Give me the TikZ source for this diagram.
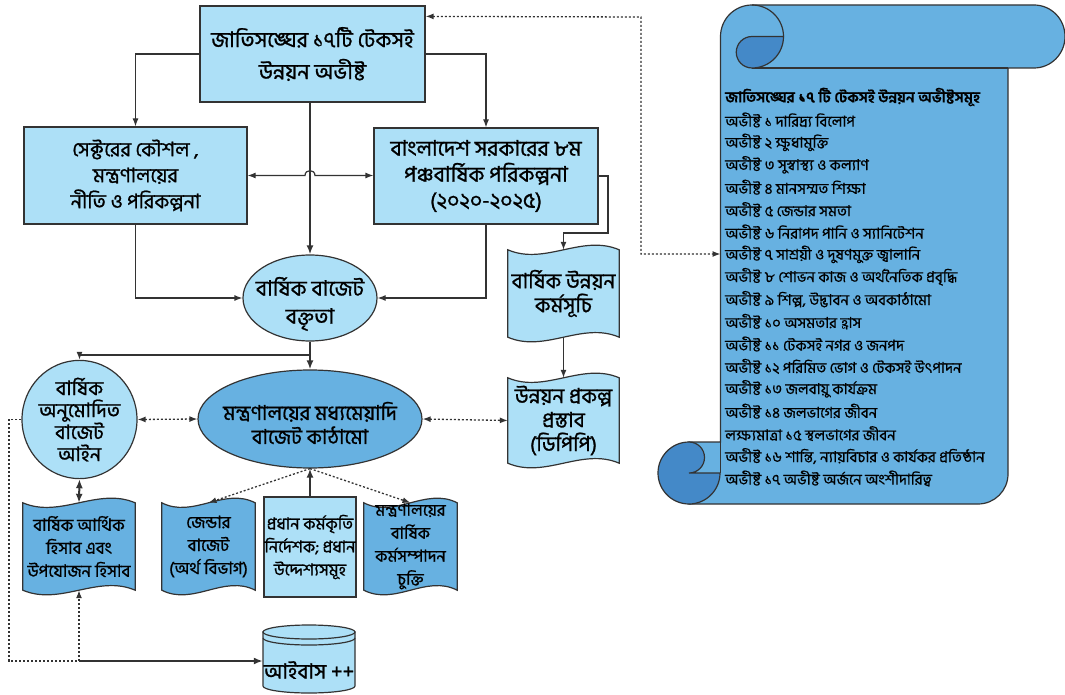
\documentclass[tikz,border=0pt]{standalone}
\usepackage{fontspec}
\newfontfamily\bn[Script=Bengali,FakeBold=1]{Hind Siliguri}
\newfontfamily\bns[Script=Bengali,FakeBold=0.6]{Hind Siliguri}
\usetikzlibrary{arrows.meta,calc,shapes.geometric}
\pgfdeclarelayer{background}
\pgfsetlayers{background,main}
\definecolor{lb}{HTML}{ADE0F7}
\definecolor{mb}{HTML}{67B1E1}
\definecolor{db}{HTML}{4489C8}
\definecolor{bd}{HTML}{333333}
\newcommand\fA{\bn\fontsize{21.5}{32}\selectfont}
\newcommand\fL{\bn\fontsize{20}{26}\selectfont}
\newcommand\fB{\bn\fontsize{21.5}{26}\selectfont}
\newcommand\fE{\bn\fontsize{21.5}{28}\selectfont}
\newcommand\fSel{\bn\fontsize{20}{22}\selectfont}
\newcommand\fM{\bn\fontsize{20.5}{24}\selectfont}
\newcommand\fC{\bn\fontsize{21}{24}\selectfont}
\newcommand\fD{\bn\fontsize{17}{23}\selectfont}
\newcommand\fK{\bn\fontsize{16.5}{23}\selectfont}
\newcommand\fS{\bns\fontsize{15}{15}\selectfont}
\newcommand{\wdoc}[2]{%
 \path[draw=bd, line width=1.2pt, fill=#2]
  (#1.north west) .. controls ($(#1.north west)!0.3333!(#1.north east)+(0,16)$) and ($(#1.north west)!0.6667!(#1.north east)+(0,-16)$) .. (#1.north east)
  -- (#1.south east) .. controls ($(#1.south west)!0.6667!(#1.south east)+(0,-16)$) and ($(#1.south west)!0.3333!(#1.south east)+(0,16)$) .. (#1.south west) -- cycle;}
\tikzset{
 box/.style={draw=bd, line width=1.2pt, fill=lb, align=center, inner sep=0pt},
 ell/.style={ellipse, draw=bd, line width=1.2pt, align=center, inner sep=0pt},
 txt/.style={align=center, inner sep=0pt},
 con/.style={draw=bd, line width=1.2pt, -{Latex[length=8pt,width=6pt]}},
 conb/.style={draw=bd, line width=1.2pt, {Latex[length=8pt,width=6pt]}-{Latex[length=8pt,width=6pt]}},
 conthick/.style={draw=bd, line width=2pt, -{Latex[length=9pt,width=7pt]}},
 conthickb/.style={draw=bd, line width=2pt, {Latex[length=9pt,width=7pt]}-{Latex[length=9pt,width=7pt]}},
 dotline/.style={draw=bd, line width=1.3pt, dash pattern=on 2pt off 2pt},
 dotcon/.style={dotline, -{Latex[length=8pt,width=6pt]}},
 dotconb/.style={dotline, {Latex[length=8pt,width=6pt]}-{Latex[length=8pt,width=6pt]}},
 scr/.style={anchor=west, inner sep=0pt, font=\fS},
}
\begin{document}
\begin{tikzpicture}[x=1pt,y=-1pt]
\useasboundingbox (0,0) rectangle (1065,695);
% ---------- scroll ----------
\path[fill=mb, draw=bd, line width=1.2pt]
 (752,5) -- (1034,5) .. controls (1051.1,5) and (1065,18.9) .. (1065,36.5)
 .. controls (1065,53.9) and (1051.1,68) .. (1034,68) -- (1008,68) -- (1008,474)
 .. controls (1008,490.6) and (994.6,504) .. (978,504) -- (689,504) -- (689,442)
 -- (720.5,442) -- (720.5,36.5) .. controls (720.5,19.1) and (734.6,5) .. (752,5) -- cycle;
\draw[bd, line width=1.2pt] (752,68) -- (1008,68);
\draw[bd, line width=1.2pt] (720.5,442) -- (720.5,473);
\draw[bd, line width=1.2pt] (752,5) .. controls (769.4,5) and (783.5,19.1) .. (783.5,36.5);
\path[fill=db, draw=bd, line width=1.2pt]
 (752,36.5) -- (783.5,36.5) .. controls (783.5,53.9) and (769.4,68) .. (752,68)
 .. controls (743.3,68) and (736.25,60.95) .. (736.25,52.25)
 .. controls (736.25,43.55) and (743.3,36.5) .. (752,36.5) -- cycle;
\path[fill=db, draw=bd, line width=1.2pt]
 (689,442) .. controls (671.9,442) and (658,455.9) .. (658,473)
 .. controls (658,490.1) and (671.9,504) .. (689,504)
 .. controls (706.1,504) and (720,490.1) .. (720,473) -- (689,473)
 .. controls (697.6,473) and (704.5,466.1) .. (704.5,457.5)
 .. controls (704.5,448.9) and (697.6,442) .. (689,442) -- cycle;
\node[scr] (g0) at (725,97) {\bfseries জাতিসঙ্ঘের ১৭ টি টেকসই উন্নয়ন অভীষ্টসমূহ};
\foreach \t [count=\i] in {%
 অভীষ্ট ১ দারিদ্র্য বিলোপ,
 অভীষ্ট ২ ক্ষুধামুক্তি,
 অভীষ্ট ৩ সুস্বাস্থ্য ও কল্যাণ,
 অভীষ্ট ৪ মানসম্মত শিক্ষা,
 অভীষ্ট ৫ জেন্ডার সমতা,
 অভীষ্ট ৬ নিরাপদ পানি ও স্যানিটেশন,
 অভীষ্ট ৭ সাশ্রয়ী ও দুষণমুক্ত জ্বালানি,
 অভীষ্ট ৮ শোভন কাজ ও অর্থনৈতিক প্রবৃদ্ধি,
 {অভীষ্ট ৯ শিল্প, উদ্ভাবন ও অবকাঠামো},
 অভীষ্ট ১০ অসমতার হ্রাস,
 অভীষ্ট ১১ টেকসই নগর ও জনপদ,
 অভীষ্ট ১২ পরিমিত ভোগ ও টেকসই উৎপাদন,
 অভীষ্ট ১৩ জলবায়ু কার্যক্রম,
 অভীষ্ট ১৪ জলভাগের জীবন,
 লক্ষ্যমাত্রা ১৫ স্থলভাগের জীবন,
 {অভীষ্ট ১৬ শান্তি, ন্যায়বিচার ও কার্যকর প্রতিষ্ঠান},
 অভীষ্ট ১৭ অভীষ্ট অর্জনে অংশীদারিত্ব}
 \node[scr] (g\i) at (725,{120+(\i-1)*22.4}) {\t};
% ---------- boxes ----------
\node[box, minimum width=225pt, minimum height=96pt, font=\fA] (sdg) at (312.5,54) {জাতিসঙ্ঘের ১৭টি টেকসই\\উন্নয়ন অভীষ্ট};
\node[box, minimum width=223pt, minimum height=97pt, font=\fL] (lbox) at (135.5,175.5) {সেক্টরের কৌশল ,\\মন্ত্রণালয়ের\\নীতি ও পরিকল্পনা};
\node[box, minimum width=224pt, minimum height=96pt, font=\fB] (rbox) at (486,176) {বাংলাদেশ সরকারের ৮ম\\পঞ্চবার্ষিক পরিকল্পনা\\(২০২০-২০২৫)};
\node[ell, fill=lb, minimum width=134pt, minimum height=86pt] (bud) at (310,298) {};
\node[txt, font=\fE] (budt) at (310,304) {বার্ষিক বাজেট\\বক্তৃতা};
\node[ell, fill=lb, minimum width=111pt, minimum height=97pt, font=\fSel] (sel) at (79.5,419.5) {বার্ষিক\\অনুমোদিত\\বাজেট\\আইন};
\node[ell, fill=mb, minimum width=224pt, minimum height=98pt] (mtbf) at (310,419) {};
\node[txt, font=\fM] (mtbft) at (310,423) {মন্ত্রণালয়ের মধ্যমেয়াদি\\বাজেট কাঠামো};
\node[txt, minimum width=111pt, minimum height=87pt, font=\fC] (adp) at (563.5,293.5) {বার্ষিক উন্নয়ন\\কর্মসূচি};
\node[txt, minimum width=111pt, minimum height=85pt, font=\fC] (dpp) at (563.5,420.5) {উন্নয়ন প্রকল্প\\প্রস্তাব\\(ডিপিপি)};
\node[txt, minimum width=112pt, minimum height=87pt, font=\fD] (fin) at (79,546.5) {বার্ষিক আর্থিক\\হিসাব এবং\\উপযোজন হিসাব};
\node[txt, minimum width=93pt, minimum height=87pt, font=\fD] (gen) at (208.5,546.5) {জেন্ডার\\বাজেট\\(অর্থ বিভাগ)};
\node[box, minimum width=92pt, minimum height=100pt, font=\fK] (kpi) at (310,547) {প্রধান কর্মকৃতি\\নির্দেশক; প্রধান\\উদ্দেশ্যসমূহ};
\node[txt, minimum width=93pt, minimum height=87pt, font=\fK] (apa) at (410.5,546.5) {মন্ত্রণালয়ের\\বার্ষিক\\কর্মসম্পাদন\\চুক্তি};
\node[txt, minimum width=92pt, font=\fC] (ibas) at (309,670) {আইবাস ++};
\begin{pgfonlayer}{background}
\wdoc{adp}{lb}
\wdoc{dpp}{lb}
\wdoc{fin}{mb}
\wdoc{gen}{mb}
\wdoc{apa}{mb}
\path[fill=lb, draw=bd, line width=1.2pt] (263,632) -- (263,686)
 .. controls (263,689.9) and (283.6,693) .. (309,693)
 .. controls (334.4,693) and (355,689.9) .. (355,686) -- (355,632) -- cycle;
\draw[bd, line width=1.2pt, fill=lb] (309,632) ellipse [x radius=46, y radius=7];
\draw[bd, line width=1.2pt] (263,638) .. controls (263,641.9) and (283.6,645) .. (309,645)
 .. controls (334.4,645) and (355,641.9) .. (355,638);
\end{pgfonlayer}
% ---------- connectors ----------
\draw[con] (sdg.west) -| (lbox.north);
\draw[con] (sdg.east) -| (rbox.north);
\draw[conthick] (sdg.south -| bud.north) -- (bud.north);
\draw[conb] (lbox.east) -- (305,175.5) .. controls (305,169) and (315,169) .. (315,175.5) -- (rbox.west |- lbox.east);
\draw[con] (lbox.south) |- (bud.west);
\draw[con] (rbox.south) |- (bud.east);
\draw[conthick] (bud.south) -- (mtbf.north);
\coordinate (br) at (310,355);
\draw[con] (br) -| (sel.north);
\draw[dotconb] (sel.east) -- (mtbf.west);
\draw[dotconb] (mtbf.east) -- (dpp.west);
\draw[con] (rbox.east) -- (608,176) -- (608,233) -| (adp.north);
\draw[con] (adp.south) -- (dpp.north);
\draw[conthickb] (sel.south) -- (fin.north);
\draw[dotcon] (mtbf.south) -- (gen.north);
\draw[dotcon] (mtbf.south) -- (apa.north);
\draw[conthick] (kpi.north) -- (mtbf.south);
\coordinate (j) at (79,661);
\draw[conthick] (j) -- (j -| ibas.west);
\draw[dotcon] (j) -- (fin.south);
\draw[dotline] (sel.west) -- (9,419.5) -- (9,661) -- (j);
\coordinate (scrollin) at (720.5,254);
\draw[dotconb] ($(sdg.north east)+(0,11)$) -- (641,17) |- (scrollin);
\end{tikzpicture}
\end{document}
